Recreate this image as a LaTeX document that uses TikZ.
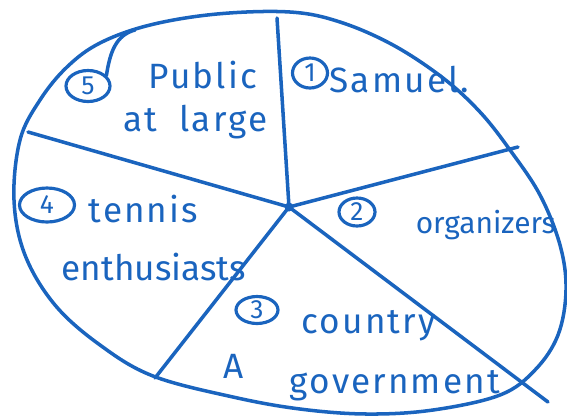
\documentclass[tikz,border=0pt]{standalone}
\usepackage{fontspec}
\setmainfont{Fira Sans}
\newfontfamily\handfont[LetterSpace=6]{Fira Sans}
\usetikzlibrary{shapes.geometric}
\definecolor{inkblue}{HTML}{1A64BE}

\begin{document}
\begin{tikzpicture}[x=0.02cm, y=-0.02cm, inkblue, line width=2pt, line cap=round, line join=round,
  numtag/.style={draw, ellipse, line width=1.8pt, inner sep=0pt, font=\fontsize{15}{15}\selectfont},
  slicetext/.style={anchor=base west, inner sep=0pt, font=\handfont\fontsize{20}{22}\selectfont}]
  \useasboundingbox (0,0) rectangle (567,417);

  % rim of the pie, freehand
  \draw plot[smooth cycle, tension=0.6] coordinates {
    (290,12) (340,22) (393,45) (443,78) (480,112) (510,150) (540,195)
    (560,245) (566,290) (558,335) (535,370) (500,395) (433,410) (367,414)
    (300,409) (233,397) (153,376) (100,345) (55,305) (25,255) (14,200)
    (20,140) (40,100) (67,67) (100,43) (150,25) (217,14)};

  % centre and the five cuts
  \coordinate (ctr) at (289,207);
  \coordinate (cutN) at (277,18);
  \coordinate (cutE) at (518,147);
  \coordinate (cutSE) at (548,402);
  \coordinate (cutSW) at (155,378);
  \coordinate (cutW) at (28,132);
  \foreach \c in {cutN,cutE,cutSE,cutSW,cutW}
    \draw (ctr) -- (\c);
  \fill (ctr) circle (4.5);

  % 5: public at large
  \node[numtag, minimum width=0.88cm, minimum height=0.62cm] (n5) at (88,86) {5};
  \coordinate (rim5) at (135,30);
  \draw (n5.30) .. controls (110,52) and (116,35) .. (rim5);
  \node[slicetext] (pub) at (147,88) {Public};
  \node[slicetext] (atl) at (122,131) {at\hspace{0.3em} large};

  % 1: Samuel
  \node[numtag, minimum width=0.7cm, minimum height=0.6cm] (n1) at (310,73) {1};
  \node[slicetext] (sam) at (328,92) {Samuel.};

  % 2: organizers
  \node[numtag, minimum width=0.72cm, minimum height=0.56cm] (n2) at (357,212) {2};
  \node[slicetext, font=\fontsize{17}{20}\selectfont] (org) at (414,233) {organizers};

  % 4: tennis enthusiasts
  \node[numtag, minimum width=1.1cm, minimum height=0.68cm] (n4) at (47,205) {4};
  \node[slicetext] (ten) at (87,222) {tennis};
  \node[slicetext, font=\fontsize{20}{22}\selectfont] (ent) at (60,280) {enthusiasts};

  % 3: country A government
  \node[numtag, minimum width=0.84cm, minimum height=0.54cm] (n3) at (257,310) {3};
  \node[slicetext] (cty) at (300,333) {country};
  \node[slicetext] (letA) at (222,378) {A};
  \node[slicetext] (gov) at (288,393) {government};
\end{tikzpicture}
\end{document}
